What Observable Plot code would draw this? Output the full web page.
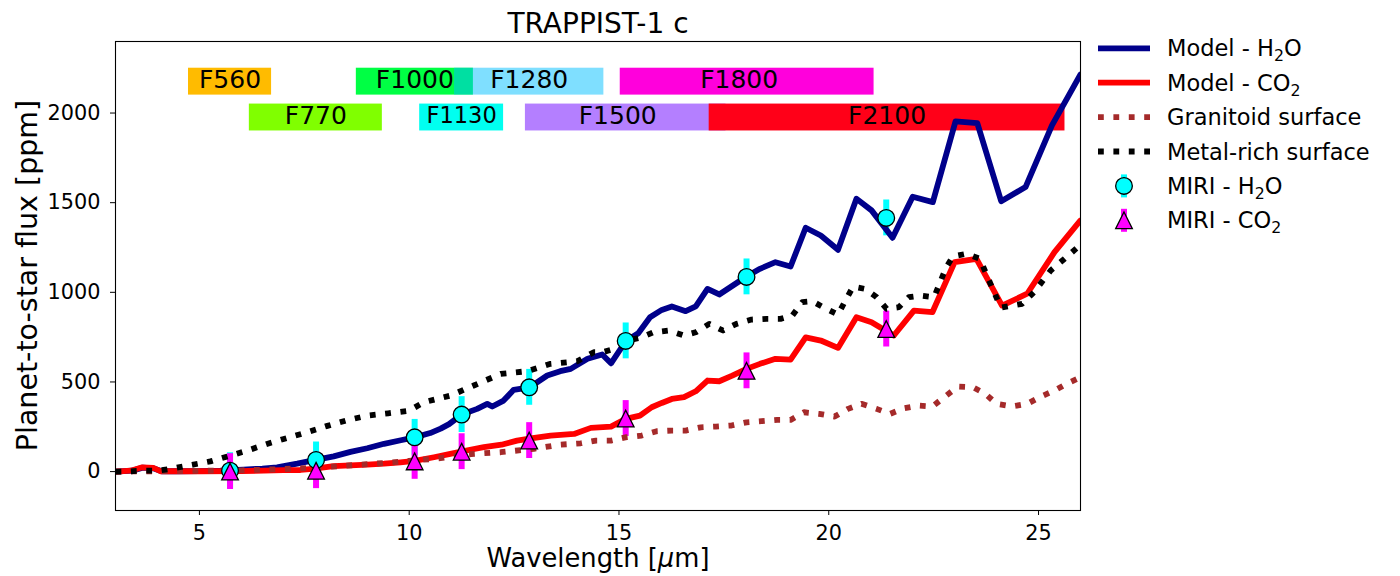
<!DOCTYPE html>
<html>
<head>
<meta charset="utf-8">
<script src="https://cdn.jsdelivr.net/npm/d3@7"></script>
<script src="https://cdn.jsdelivr.net/npm/@observablehq/plot@0.6"></script>
<style>
  html, body { margin: 0; padding: 0; background: white; }
  #wrap { position: relative; width: 1400px; height: 576px; overflow: hidden; font-family: "DejaVu Sans", sans-serif; }
  #chart { position: absolute; left: 0; top: 0; }
  #overlay { position: absolute; left: 0; top: 0; pointer-events: none; }
</style>
</head>
<body>
<div id="wrap">
  <div id="chart"></div>
  <svg id="overlay" width="1400" height="576"></svg>
</div>
<script>
// ---- Model spectra (wavelength in µm, planet-to-star flux in ppm) ----
const h2oModelWl = [3.0, 3.4, 3.65, 3.9, 4.1, 4.5, 5.0, 5.5, 6.05, 6.5, 6.85, 7.33, 7.77, 8.2, 8.6, 9.0, 9.4, 9.8, 10.13, 10.5, 10.75, 10.95, 11.25, 11.62, 11.86, 11.98, 12.25, 12.49, 12.87, 13.29, 13.6, 13.85, 14.25, 14.6, 14.81, 15.16, 15.46, 15.74, 16.02, 16.26, 16.59, 16.83, 17.11, 17.39, 18.04, 18.36, 18.73, 19.09, 19.45, 19.81, 20.22, 20.66, 21.02, 21.52, 22.0, 22.48, 23.02, 23.54, 24.11, 24.69, 25.32, 26.0];
const h2oModelFlux = [0, 5, 22, 18, 2, 2, 3, 5, 11, 17, 24, 44, 65, 85, 110, 130, 155, 175, 191, 215, 240, 265, 318, 350, 378, 363, 396, 456, 470, 536, 560, 573, 629, 653, 604, 727, 772, 861, 902, 921, 895, 921, 1019, 988, 1088, 1131, 1168, 1144, 1360, 1317, 1237, 1522, 1457, 1304, 1533, 1503, 1953, 1944, 1508, 1587, 1931, 2215];

const co2ModelWl = [3.0, 3.36, 3.64, 3.91, 4.07, 5.0, 6.0, 7.0, 7.41, 7.7, 8.2, 9.0, 9.4, 9.79, 10.13, 10.59, 10.98, 11.3, 11.78, 12.2, 12.57, 12.9, 13.37, 13.93, 14.33, 14.81, 15.16, 15.5, 15.78, 16.02, 16.26, 16.55, 16.83, 17.11, 17.39, 17.7, 18.04, 18.36, 18.73, 19.09, 19.45, 19.81, 20.22, 20.66, 21.02, 21.55, 22.03, 22.47, 23.0, 23.52, 24.13, 24.73, 25.38, 26.0];
const co2ModelFlux = [0, 5, 24, 20, 2, 2, 3, 8, 9, 15, 30, 39, 44, 52, 60, 80, 99, 115, 136, 150, 173, 185, 201, 210, 244, 251, 294, 312, 359, 383, 405, 415, 448, 508, 504, 535, 573, 601, 629, 625, 749, 731, 690, 861, 833, 759, 898, 889, 1168, 1187, 926, 992, 1224, 1401];

const granitoidWl = [3.0, 4.0, 5.0, 6.0, 7.0, 7.6, 8.2, 9.4, 10.0, 10.59, 11.54, 12.18, 12.97, 13.6, 14.09, 14.45, 14.81, 15.18, 15.54, 15.9, 16.26, 16.59, 16.95, 17.31, 17.68, 18.04, 18.4, 18.77, 19.09, 19.41, 19.77, 20.14, 20.46, 20.78, 21.14, 21.46, 21.79, 22.15, 22.47, 22.8, 23.08, 23.44, 23.73, 24.0, 24.37, 24.73, 25.05, 25.38, 25.7, 26.0];
const granitoidFlux = [0, 2, 4, 7, 14, 20, 28, 48, 60, 71, 99, 108, 127, 150, 158, 173, 173, 192, 201, 225, 229, 229, 247, 251, 257, 275, 281, 288, 288, 331, 322, 307, 350, 378, 350, 322, 353, 368, 363, 424, 474, 470, 434, 378, 364, 378, 418, 452, 493, 526];

const metalRichWl = [3.0, 3.24, 3.6, 4.0, 4.31, 4.71, 5.26, 5.74, 6.14, 6.61, 7.01, 7.49, 8.05, 8.5, 9.0, 9.5, 10.0, 10.35, 10.98, 11.54, 12.18, 12.81, 13.37, 14.0, 14.4, 14.61, 14.9, 15.22, 15.54, 15.82, 16.19, 16.55, 16.83, 17.15, 17.48, 17.8, 18.16, 18.52, 18.85, 19.13, 19.37, 19.61, 19.94, 20.22, 20.42, 20.58, 20.86, 21.14, 21.38, 21.67, 21.91, 22.19, 22.51, 22.8, 22.96, 23.28, 23.6, 23.84, 24.1, 24.61, 24.89, 25.29, 25.62, 26.0];
const metalRichFlux = [0, 0, 5, 5, 15, 33, 57, 89, 117, 154, 182, 214, 255, 285, 312, 325, 340, 387, 424, 480, 545, 560, 601, 615, 666, 666, 685, 731, 749, 777, 787, 759, 777, 824, 787, 824, 848, 852, 852, 870, 945, 950, 908, 876, 964, 1032, 1019, 973, 908, 917, 973, 982, 973, 1140, 1200, 1215, 1187, 1056, 915, 936, 1000, 1122, 1187, 1265];

// ---- Simulated MIRI photometry ----
const miriWl = [5.73, 7.78, 10.13, 11.25, 12.86, 15.16, 18.04, 21.37];
const miriH2O = [5, 65, 191, 318, 470, 729, 1086, 1415];
const miriCO2 = [0, 5, 57, 111, 173, 296, 562, 795];
const miriErr = [100, 100, 100, 100, 100, 100, 100, 100];

// ---- MIRI filter bandpasses (µm) ----
const filterNames = ["F560", "F770", "F1000", "F1130", "F1280", "F1500", "F1800", "F2100"];
const filterStart = [4.74, 6.19, 8.74, 10.25, 11.08, 12.77, 15.03, 17.15];
const filterEnd = [6.72, 9.36, 11.53, 12.25, 14.64, 17.55, 21.08, 25.63];
const filterRow = ["upper", "lower", "upper", "lower", "upper", "lower", "upper", "lower"];
const filterColors = ["#ffbb00", "#80ff00", "#00ff44", "#00fff0", "#00bfff", "#6a00ff", "#ff00dc", "#ff0018"];
const filterAlpha = [1, 1, 1, 1, 0.5, 0.5, 1, 1];

// ---- Axis ticks ----
const xTicks = [5, 10, 15, 20, 25];
const yTicks = [0, 500, 1000, 1500, 2000];

// vertical extent (ppm) of the two rows of filter boxes
const rowBand = {upper: [2100, 2250], lower: [1900, 2050]};
// small horizontal nudges (px) for the filter names
const labelNudge = {F1500: -8, F1800: -8};

const series = (wl, flux) => wl.map((w, i) => ({w, f: flux[i]}));
const h2oModel = series(h2oModelWl, h2oModelFlux);
const co2Model = series(co2ModelWl, co2ModelFlux);
const granitoid = series(granitoidWl, granitoidFlux);
const metalRich = series(metalRichWl, metalRichFlux);

const filters = filterNames.map((name, i) => ({
  name,
  x1: filterStart[i],
  x2: filterEnd[i],
  y1: rowBand[filterRow[i]][0],
  y2: rowBand[filterRow[i]][1],
  xm: (filterStart[i] + filterEnd[i]) / 2,
  ym: (rowBand[filterRow[i]][0] + rowBand[filterRow[i]][1]) / 2,
  color: filterColors[i],
  alpha: filterAlpha[i]
}));

const miri = miriWl.map((w, i) => ({w, h2o: miriH2O[i], co2: miriCO2[i], err: miriErr[i]}));

// matplotlib-style "^" marker: isosceles triangle as wide as it is tall
const triangleUp = {
  draw(context, size) {
    const a = Math.sqrt(size / Math.PI);
    context.moveTo(0, -a);
    context.lineTo(a, a);
    context.lineTo(-a, a);
    context.closePath();
  }
};

const LW = 5.8;
const DOT = `${LW} 9.6`;
const MS = 8.35;

const labelMarks = filters.map(f => Plot.text([f], {
  x: "xm", y: "ym", text: "name", dy: -1.6, dx: labelNudge[f.name] || 0,
  fontSize: f.name === "F1130" ? 22.5 : 25,
  fill: "black", fontFamily: "DejaVu Sans"
}));

const chart = Plot.plot({
  width: 1090,
  height: 576,
  marginLeft: 115,
  marginRight: 10,
  marginTop: 41,
  marginBottom: 66,
  x: {domain: [3, 26]},
  y: {domain: [-217, 2399]},
  color: {type: "identity"},
  style: {fontFamily: "DejaVu Sans", fontSize: "20.8px", color: "black", background: "white", overflow: "visible"},
  marks: [
    Plot.rect(filters, {x1: "x1", x2: "x2", y1: "y1", y2: "y2", fill: "color", fillOpacity: "alpha"}),
    ...labelMarks,
    Plot.ruleX(miri, {x: "w", y1: d => d.h2o - d.err, y2: d => d.h2o + d.err, stroke: "#00ffff", strokeWidth: 6}),
    Plot.ruleX(miri, {x: "w", y1: d => d.co2 - d.err, y2: d => d.co2 + d.err, stroke: "#ff00ff", strokeWidth: 6}),
    Plot.line(h2oModel, {x: "w", y: "f", stroke: "#00008b", strokeWidth: LW, strokeLinejoin: "round", clip: true}),
    Plot.line(co2Model, {x: "w", y: "f", stroke: "#ff0000", strokeWidth: LW, strokeLinejoin: "round", clip: true}),
    Plot.line(granitoid, {x: "w", y: "f", stroke: "#a52a2a", strokeWidth: LW, strokeDasharray: DOT, strokeLinecap: "butt", clip: true}),
    Plot.line(metalRich, {x: "w", y: "f", stroke: "#000000", strokeWidth: LW, strokeDasharray: DOT, strokeLinecap: "butt", clip: true}),
    Plot.dot(miri, {x: "w", y: "h2o", r: MS, fill: "#00ffff", stroke: "black", strokeWidth: 1.3, symbol: "circle"}),
    Plot.dot(miri, {x: "w", y: "co2", r: MS, fill: "#ff00ff", stroke: "black", strokeWidth: 1.3, symbol: triangleUp}),
    Plot.frame({stroke: "black", strokeWidth: 1.1}),
    Plot.axisX({ticks: xTicks, tickSize: 5, tickPadding: 10, tickFormat: d => String(d), label: null}),
    Plot.axisY({ticks: yTicks, tickSize: 5, tickPadding: 10, tickFormat: d => String(d), label: null})
  ]
});
document.getElementById("chart").append(chart);

// ---- Title, axis titles and legend ----
const ov = d3.select("#overlay")
  .attr("font-family", "DejaVu Sans")
  .attr("fill", "black");

ov.append("text")
  .attr("x", 598).attr("y", 33)
  .attr("text-anchor", "middle")
  .attr("font-size", 28)
  .text("TRAPPIST-1 c");

const xl = ov.append("text")
  .attr("x", 598).attr("y", 567)
  .attr("text-anchor", "middle")
  .attr("font-size", 25.8);
xl.append("tspan").text("Wavelength [");
xl.append("tspan").attr("font-style", "italic").text("μ");
xl.append("tspan").text("m]");

ov.append("text")
  .attr("transform", "translate(36.5,275.5) rotate(-90)")
  .attr("text-anchor", "middle")
  .attr("font-size", 28.5)
  .text("Planet-to-star flux [ppm]");

const legendItems = [
  {kind: "line", stroke: "#00008b", dash: null, label: ["Model - H", "2", "O"]},
  {kind: "line", stroke: "#ff0000", dash: null, label: ["Model - CO", "2", ""]},
  {kind: "line", stroke: "#a52a2a", dash: DOT, label: ["Granitoid surface"]},
  {kind: "line", stroke: "#000000", dash: DOT, label: ["Metal-rich surface"]},
  {kind: "circle", fill: "#00ffff", label: ["MIRI - H", "2", "O"]},
  {kind: "triangle", fill: "#ff00ff", label: ["MIRI - CO", "2", ""]}
];

const FS = 22.5;
legendItems.forEach((item, i) => {
  const cy = 48.3 + i * 34.4;
  const g = ov.append("g");
  if (item.kind === "line") {
    const ln = g.append("line")
      .attr("x1", 1098).attr("x2", 1150).attr("y1", cy).attr("y2", cy)
      .attr("stroke", item.stroke).attr("stroke-width", LW);
    if (item.dash) ln.attr("stroke-dasharray", item.dash);
  } else {
    g.append("line")
      .attr("x1", 1124).attr("x2", 1124).attr("y1", cy - 11.5).attr("y2", cy + 11.5)
      .attr("stroke", item.fill).attr("stroke-width", 6);
    if (item.kind === "circle") {
      g.append("circle").attr("cx", 1124).attr("cy", cy).attr("r", MS)
        .attr("fill", item.fill).attr("stroke", "black").attr("stroke-width", 1.3);
    } else {
      const p = d3.path();
      triangleUp.draw(p, MS * MS * Math.PI);
      g.append("path").attr("transform", `translate(1124,${cy})`).attr("d", p.toString())
        .attr("fill", item.fill).attr("stroke", "black").attr("stroke-width", 1.3);
    }
  }
  const t = g.append("text").attr("x", 1167).attr("y", cy + 8).attr("font-size", FS);
  t.append("tspan").text(item.label[0]);
  if (item.label.length > 1) {
    t.append("tspan").attr("font-size", FS * 0.7).attr("dy", 5).text(item.label[1]);
    if (item.label[2]) t.append("tspan").attr("font-size", FS).attr("dy", -5).text(item.label[2]);
  }
});
</script>
</body>
</html>
